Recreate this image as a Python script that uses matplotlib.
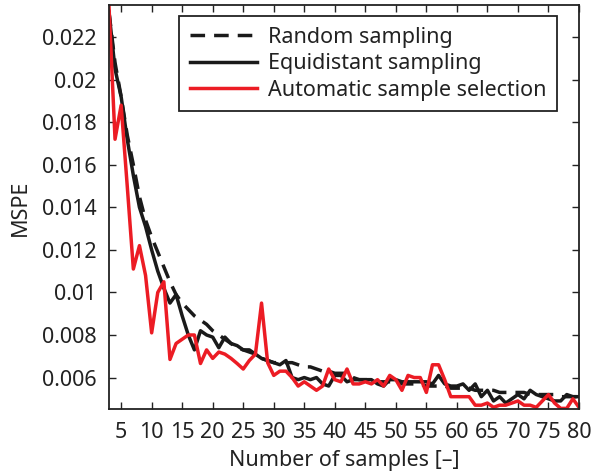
import matplotlib
matplotlib.use("Agg")
import matplotlib.pyplot as plt
import numpy as np

plt.rcParams['font.family'] = ['Noto Sans', 'DejaVu Sans']

n_samples = list(range(3, 81))

mspe_random = [
    0.0232, 0.0208, 0.0192, 0.0174, 0.0160, 0.0145, 0.0134, 0.0126, 0.0119, 0.0112,
    0.0105, 0.0099, 0.0095, 0.0092, 0.0089, 0.0087, 0.0085, 0.0082, 0.0080, 0.0078,
    0.0076, 0.0074, 0.0073, 0.0072, 0.0071, 0.0069, 0.0068, 0.0067, 0.0067, 0.0067,
    0.0067, 0.0066, 0.0065, 0.0065, 0.0064, 0.0063, 0.0063, 0.0062, 0.0062, 0.0062,
    0.0060, 0.0059, 0.0059, 0.0059, 0.0058, 0.0058, 0.0058, 0.0058, 0.0057, 0.0057,
    0.0057, 0.0057, 0.0056, 0.0056, 0.0056, 0.0056, 0.0055, 0.0055, 0.0055, 0.0055,
    0.0054, 0.0054, 0.0054, 0.0054, 0.0053, 0.0053, 0.0053, 0.0053, 0.0053, 0.0052,
    0.0052, 0.0052, 0.0052, 0.0052, 0.0051, 0.0051, 0.0051, 0.0051,
]

mspe_equidistant = [
    0.0232, 0.0205, 0.0192, 0.0172, 0.0155, 0.0140, 0.0131, 0.0120, 0.0110, 0.0102,
    0.0095, 0.0099, 0.0089, 0.0080, 0.0073, 0.0082, 0.0080, 0.0079, 0.0074, 0.0079,
    0.0076, 0.0075, 0.0073, 0.0073, 0.0071, 0.0069, 0.0068, 0.0067, 0.0066, 0.0068,
    0.0060, 0.0059, 0.0060, 0.0059, 0.0060, 0.0057, 0.0056, 0.0061, 0.0061, 0.0058,
    0.0059, 0.0059, 0.0059, 0.0059, 0.0057, 0.0056, 0.0059, 0.0059, 0.0058, 0.0058,
    0.0058, 0.0058, 0.0058, 0.0057, 0.0061, 0.0057, 0.0056, 0.0056, 0.0057, 0.0054,
    0.0057, 0.0051, 0.0054, 0.0049, 0.0051, 0.0048, 0.0050, 0.0052, 0.0050, 0.0054,
    0.0052, 0.0051, 0.0050, 0.0049, 0.0049, 0.0052, 0.0051, 0.0051,
]

mspe_automatic = [
    0.0235, 0.0172, 0.0188, 0.0150, 0.0111, 0.0122, 0.0108, 0.0081, 0.0100, 0.0105,
    0.00685, 0.0076, 0.0078, 0.0080, 0.0080, 0.00666, 0.0073, 0.0069, 0.0072, 0.0071,
    0.0069, 0.00666, 0.0064, 0.0068, 0.0071, 0.0095, 0.0067, 0.0061, 0.0063, 0.0063,
    0.0060, 0.0056, 0.0058, 0.0056, 0.0054, 0.0056, 0.0064, 0.0059, 0.0058, 0.0064,
    0.0057, 0.0057, 0.0058, 0.0057, 0.0059, 0.0056, 0.0061, 0.0059, 0.0054, 0.0061,
    0.0060, 0.0060, 0.0053, 0.0066, 0.0066, 0.0059, 0.0051, 0.0051, 0.0051, 0.0051,
    0.0047, 0.0047, 0.0048, 0.0046, 0.0047, 0.0047, 0.0048, 0.0049, 0.0047, 0.0047,
    0.0046, 0.0049, 0.0052, 0.0048, 0.00455, 0.00455, 0.0050, 0.0046,
]

series_labels = ["Random sampling", "Equidistant sampling", "Automatic sample selection"]
x_ticks = list(range(5, 81, 5))
y_ticks = [0.006, 0.008, 0.01, 0.012, 0.014, 0.016, 0.018, 0.02, 0.022]
y_tick_labels = ["0.006", "0.008", "0.01", "0.012", "0.014", "0.016", "0.018", "0.02", "0.022"]

fig = plt.figure(figsize=(5.92, 4.75), dpi=100)
ax = fig.add_axes([0.184, 0.138, 0.794, 0.851])

black = "#1a1a1a"
red = "#ec1c24"
lw = 2.5
fs = 15.5

ax.plot(n_samples, mspe_random, color=black, lw=lw, linestyle=(0, (4.2, 2.6)),
        label=series_labels[0])
ax.plot(n_samples, mspe_equidistant, color=black, lw=lw, label=series_labels[1])
ax.plot(n_samples, mspe_automatic, color=red, lw=lw, label=series_labels[2])

ax.set_xlim(3, 80)
ax.set_ylim(0.0045, 0.0235)
ax.set_xticks(x_ticks)
ax.set_yticks(y_ticks)
ax.set_yticklabels(y_tick_labels)

ax.tick_params(direction="in", length=5, width=1.0, top=True, right=True,
               labelsize=fs, colors="#222222")
ax.tick_params(axis="y", pad=9)
ax.tick_params(axis="x", pad=9)
for s in ax.spines.values():
    s.set_linewidth(1.3)
    s.set_color("#222222")

ax.set_xlabel("Number of samples [\u2013]", fontsize=fs, color="#222222", labelpad=5)
ax.set_ylabel("MSPE", fontsize=fs, color="#222222", labelpad=8)

leg = ax.legend(loc="upper right", bbox_to_anchor=(0.953, 0.973), fontsize=fs,
                handlelength=3.1, handletextpad=0.5, borderpad=0.5,
                labelspacing=0.25, borderaxespad=0, fancybox=False,
                framealpha=1.0, edgecolor="#222222")
leg.get_frame().set_linewidth(1.3)
for t in leg.get_texts():
    t.set_color("#222222")

fig.savefig("out.png", dpi=100)
